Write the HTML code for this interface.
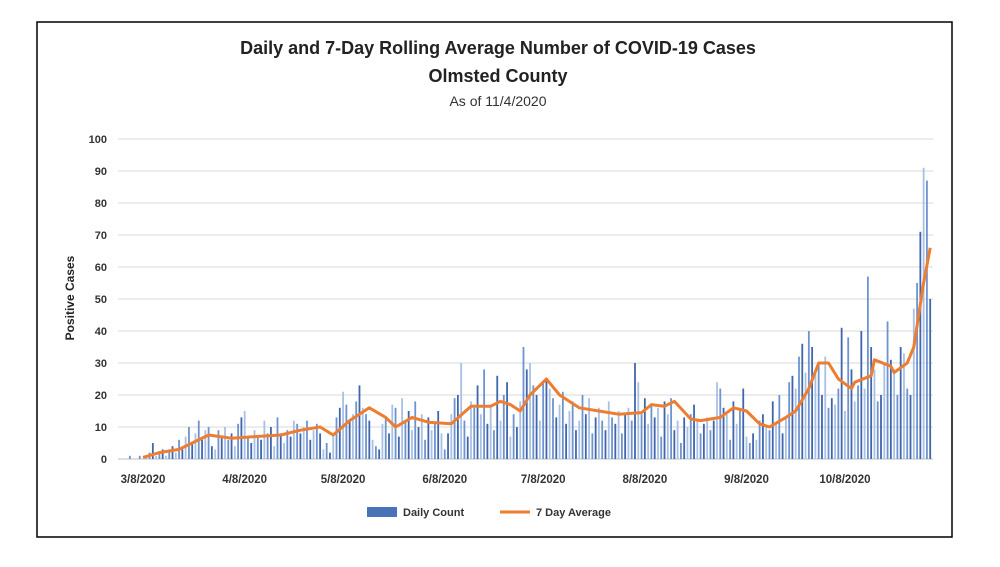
<!DOCTYPE html>
<html><head><meta charset="utf-8"><style>
body{margin:0;background:#fff;width:1000px;height:562px;overflow:hidden;font-family:"Liberation Sans",sans-serif}
</style></head><body>
<svg width="1000" height="562">
<rect x="37" y="22" width="915" height="515" fill="#fff" stroke="#000" stroke-width="1.5"/>
<text x="498" y="54" text-anchor="middle" font-size="18" font-weight="bold" fill="#222">Daily and 7-Day Rolling Average Number of COVID-19 Cases</text>
<text x="498" y="82" text-anchor="middle" font-size="18" font-weight="bold" fill="#222">Olmsted County</text>
<text x="498" y="106" text-anchor="middle" font-size="14" fill="#333">As of 11/4/2020</text>
<text transform="translate(74,298) rotate(-90)" text-anchor="middle" font-size="12" font-weight="bold" fill="#222">Positive Cases</text>
<g id="grid"></g><g id="bars"></g><g id="line"></g><g id="xl"></g>
<rect x="367" y="507" width="30" height="10" fill="#4a72b8"/>
<text x="403" y="516" font-size="11" font-weight="bold" fill="#333">Daily Count</text>
<line x1="500" y1="512" x2="530" y2="512" stroke="#ed7d31" stroke-width="3"/>
<text x="536" y="516" font-size="11" font-weight="bold" fill="#333">7 Day Average</text>
</svg>
<script>
const startDay=-6;
const daily=[0,0,1,0,0,1,0,
1,2,5,1,2,3,1, 3,4,2,6,3,7,10, 5,8,12,6,9,10,4, 3,9,7,10,6,8,4, 11,13,15,7,5,9,7, 6,12,8,10,4,13,8, 5,9,7,12,11,8,10,
12,6,9,11,8,3,5, 2,8,13,16,21,17,12, 14,18,23,16,14,12,6, 4,3,11,13,8,17,16, 7,19,12,15,9,18,10, 14,6,13,9,11,15,8,
3,8,14,19,20,30,12, 7,18,16,23,14,28,11, 17,9,26,12,20,24,7, 14,10,18,35,28,30,23, 20,12,24,25,22,19,13, 17,21,11,15,18,9,12,
20,14,19,8,13,16,12, 9,18,13,11,15,8,14, 16,12,30,24,14,19,11, 17,13,16,7,18,14,19, 9,12,5,13,10,14,17, 12,8,11,13,9,12,24,
22,16,14,6,18,11,16, 22,7,5,8,6,12,14, 10,9,18,11,20,8,13, 24,26,22,32,36,27,40, 35,28,30,20,32,16,19, 17,22,41,15,38,28,18,
23,40,22,57,35,28,18, 20,30,43,31,28,20,35, 33,22,20,47,55,71,91, 87,50];
const avgDays=[0,5,11,16,20,27,34,42,48,54,58,63,69,74,77,82,87,94,100,106,109,112,115,118,123,127,133,139,145,152,155,159,162,167,170,176,180,184,188,191,196,199,203,206,209,212,216,217,222,223,228,229,233,235,238,240];
const avgVals=[0.5,2,3,5.5,7.5,6.5,7,7.5,9,10,7.5,12,16,13,10,13,11.5,11,16.5,16.5,18,17,15,20,25,20,16,15,14,14.5,17,16.5,18,12.5,12,13,16,15,11,10,13,15,22,30,30,25,22,24,26,31,29,27,30,35,55,66];
const yTicks=[0,10,20,30,40,50,60,70,80,90,100];
const xTickDays=[0,31,61,92,122,153,184,214];
const xTickLabels=["3/8/2020","4/8/2020","5/8/2020","6/8/2020","7/8/2020","8/8/2020","9/8/2020","10/8/2020"];
const NS="http://www.w3.org/2000/svg";
const X=d=>143+d*3.28, Y=v=>459-v*3.2;
function mk(t,a,p){const e=document.createElementNS(NS,t);for(const k in a)e.setAttribute(k,a[k]);p.appendChild(e);return e;}
const g=document.getElementById('grid');
yTicks.forEach(v=>{
 const l=mk('line',{x1:118,x2:933,y1:Y(v),y2:Y(v),stroke:v?'#d9d9d9':'#bfbfbf','stroke-width':1},g);
 
 
 const t=mk('text',{x:107,y:Y(v)+4,'text-anchor':'end','font-size':11,'font-weight':'bold',fill:'#333'},g);
 t.textContent=v;
 
 
});
const xl=document.getElementById('xl');
xTickDays.forEach((d,i)=>{
 const t=mk('text',{x:X(d),y:483,'text-anchor':'middle','font-size':11.5,'font-weight':'bold',fill:'#333'},xl);
 t.textContent=xTickLabels[i];
 
 
});
const b=document.getElementById('bars');
daily.forEach((v,i)=>{
 const d=startDay+i;
 const r=mk('rect',{x:X(d)-0.9,y:Y(v),width:1.8,height:v*3.2,fill:(i%3==1)?'#a9c0e6':(i%3==2?'#6f93cf':'#3f66ad')},b);
 
 
});
const p=avgDays.map((d,i)=>X(d).toFixed(1)+','+Y(avgVals[i]).toFixed(1)).join(' ');
const pl=mk('polyline',{points:p,fill:'none',stroke:'#ed7d31','stroke-width':3,'stroke-linejoin':'round'},document.getElementById('line'));


</script>
</body></html>
